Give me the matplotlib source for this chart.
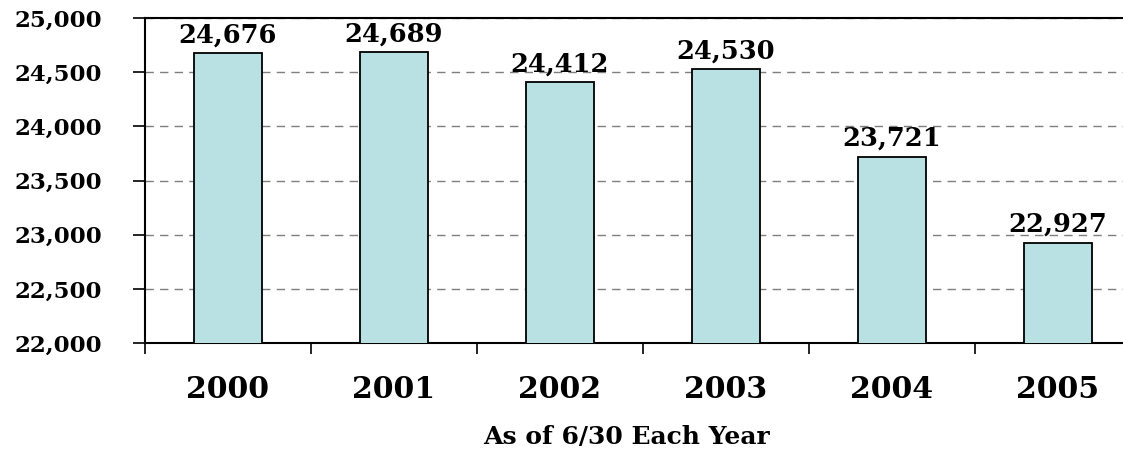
import matplotlib
matplotlib.use("Agg")
import matplotlib.pyplot as plt
from matplotlib.ticker import FuncFormatter, FixedLocator

years = ["2000", "2001", "2002", "2003", "2004", "2005"]
values = [24676, 24689, 24412, 24530, 23721, 22927]
x_title = "As of 6/30 Each Year"

FONT = "DejaVu Serif"
fig = plt.figure(figsize=(11.23, 4.49), dpi=100)
ax = fig.add_axes([145/1123, (449-343)/449, 996/1123, (343-18)/449])

xs = list(range(len(years)))
ax.bar(xs, values, width=0.41, color="#B9E0E3", edgecolor="black", linewidth=1.3, zorder=3)

ax.set_ylim(22000, 25000)
ax.set_xlim(-0.5, len(years) - 0.5)
ax.set_yticks(range(22000, 25001, 500))
ax.yaxis.set_major_formatter(FuncFormatter(lambda v, p: f"{int(v):,}"))
ax.yaxis.grid(True, linestyle=(0, (6, 4.5)), color="#7f7f7f", linewidth=1.0, zorder=0)

ax.set_xticks(xs)
ax.set_xticklabels(years)
ax.xaxis.set_minor_locator(FixedLocator([i - 0.5 for i in range(len(years) + 1)]))
ax.tick_params(axis="x", which="major", length=0, pad=23, labelsize=21.5)
ax.tick_params(axis="x", which="minor", length=8, width=1.2, direction="out")
ax.tick_params(axis="y", length=9, width=1.2, direction="out", pad=22, labelsize=16.5)
for lbl in ax.get_xticklabels() + ax.get_yticklabels():
    lbl.set_fontfamily(FONT)
    lbl.set_fontweight("bold")

for s in ["left", "bottom", "top"]:
    ax.spines[s].set_linewidth(1.5)
    ax.spines[s].set_color("black")
ax.spines["right"].set_visible(False)

for xi, v in zip(xs, values):
    ax.annotate(f"{v:,}", (xi, v), xytext=(0, 4), textcoords="offset points",
                ha="center", va="bottom", fontsize=18.5, fontweight="bold", family=FONT)

fig.text(626/1123, 1 - 437/449, x_title, ha="center", va="center",
         fontsize=18, fontweight="bold", family=FONT)

fig.savefig("out.png", dpi=100)
